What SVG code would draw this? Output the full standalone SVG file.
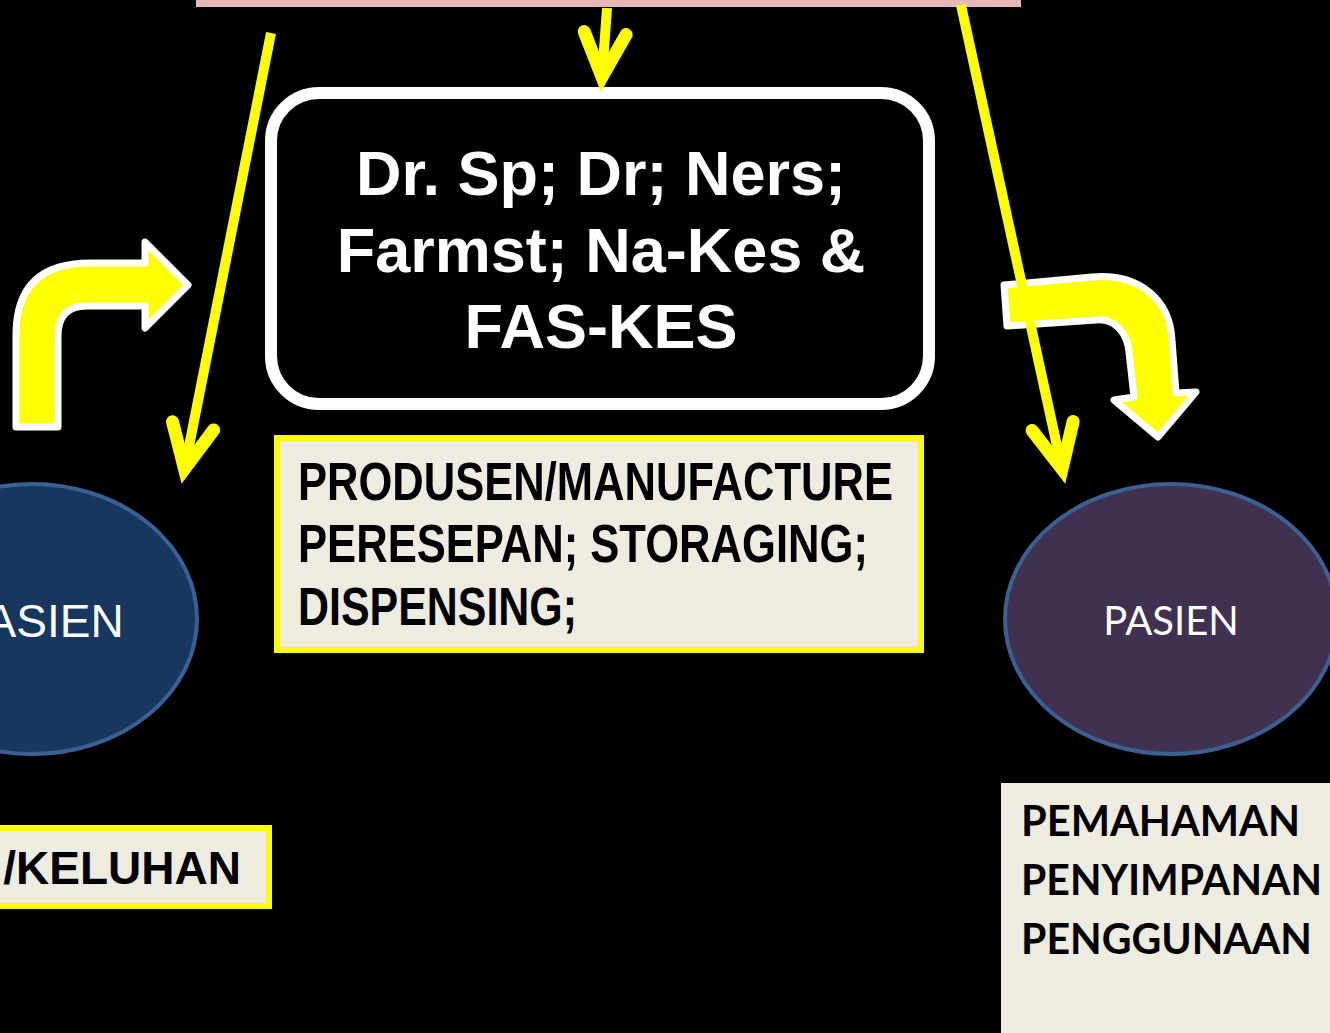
<svg xmlns="http://www.w3.org/2000/svg" width="1330" height="1033" viewBox="0 0 1330 1033">
  <style>
    .bg { fill: #000000; }
    .yellow-line { fill: none; stroke: #ffff00; stroke-width: 10; stroke-linecap: butt; }
    .bent { fill: #ffff00; stroke: #ffffff; stroke-width: 7; stroke-linejoin: round; }
    .panel { fill: #eeece1; stroke: #ffff00; stroke-width: 6; }
    .ell { stroke: #3a6192; stroke-width: 4; }
    .sans-b { font-family: "Liberation Sans", Arial, sans-serif; font-weight: 700; }
    .sans { font-family: "Liberation Sans", Arial, sans-serif; }
    .cal { font-family: Lato, "Open Sans", sans-serif; }
  </style>
  <defs>
    <marker id="vhead" markerUnits="userSpaceOnUse" markerWidth="120" markerHeight="120" viewBox="-60 -60 120 120" refX="0" refY="0" orient="auto" overflow="visible">
      <path d="M-44,-21 L0,0 L-44,21" fill="none" stroke="#ffff00" stroke-width="13" stroke-linecap="round" stroke-linejoin="miter"/>
    </marker>
  </defs>

  <rect class="bg" x="0" y="0" width="1330" height="1033"/>

  <g id="top-bar">
    <rect x="196" y="-5" width="825" height="12" fill="#e6b9b8"/>
  </g>

  <g id="node-staff">
    <rect x="271" y="93" width="658" height="311" rx="48" ry="48" fill="#000000" stroke="#ffffff" stroke-width="12"/>
    <text class="sans-b" x="601" y="195" font-size="63" fill="#ffffff" text-anchor="middle">Dr. Sp; Dr; Ners;</text>
    <text class="sans-b" x="601" y="272" font-size="63" fill="#ffffff" text-anchor="middle">Farmst; Na-Kes &amp;</text>
    <text class="sans-b" x="601" y="348" font-size="63" fill="#ffffff" text-anchor="middle">FAS-KES</text>
  </g>

  <g id="node-produsen">
    <rect class="panel" x="277" y="438" width="644" height="212"/>
    <text class="sans-b" x="298" y="500" font-size="53" fill="#000000" textLength="595" lengthAdjust="spacingAndGlyphs">PRODUSEN/MANUFACTURE</text>
    <text class="sans-b" x="298" y="562" font-size="53" fill="#000000" textLength="570" lengthAdjust="spacingAndGlyphs">PERESEPAN; STORAGING;</text>
    <text class="sans-b" x="298" y="625" font-size="53" fill="#000000" textLength="279" lengthAdjust="spacingAndGlyphs">DISPENSING;</text>
  </g>

  <g id="node-pasien-left">
    <ellipse class="ell" cx="32" cy="619" rx="165" ry="135" fill="#17375e"/>
    <text class="sans" x="41" y="637" font-size="46" fill="#ffffff" text-anchor="middle">PASIEN</text>
  </g>

  <g id="node-pasien-right">
    <ellipse class="ell" cx="1171" cy="619" rx="166" ry="135" fill="#403151"/>
    <text class="cal" x="1171" y="635" font-size="40" fill="#ffffff" text-anchor="middle">PASIEN</text>
  </g>

  <g id="node-keluhan">
    <rect class="panel" x="-10" y="828" width="279" height="78"/>
    <text class="sans-b" x="241" y="884" font-size="46" fill="#000000" text-anchor="end">/KELUHAN</text>
  </g>

  <g id="node-pemahaman">
    <rect x="1001" y="783" width="340" height="260" fill="#eeece1"/>
    <text class="cal" x="1021" y="836" font-size="42" font-weight="700" fill="#000000" textLength="279" lengthAdjust="spacingAndGlyphs">PEMAHAMAN</text>
    <text class="cal" x="1021" y="895" font-size="42" font-weight="700" fill="#000000" textLength="301" lengthAdjust="spacingAndGlyphs">PENYIMPANAN</text>
    <text class="cal" x="1021" y="954" font-size="42" font-weight="700" fill="#000000" textLength="291" lengthAdjust="spacingAndGlyphs">PENGGUNAAN</text>
  </g>

  <g id="bent-arrow-left">
    <path class="bent" d="M16,427 L16,335 Q16,263 90,263 L145,263 L145,242 L188,285 L145,328 L145,306 L86,306 Q58,306 58,336 L58,427 Z"/>
  </g>

  <g id="bent-arrow-right">
    <path class="bent" d="M1004,285 L1092,277 C1140,273 1170,300 1172,340 L1176,393 L1196,392 L1158,437 L1114,400 L1134,397 L1129,352 C1127,332 1114,318 1096,320 L1007,326 Z"/>
  </g>

  <g id="connectors">
    <line class="yellow-line" x1="271" y1="33" x2="184.5" y2="469" marker-end="url(#vhead)"/>
    <line class="yellow-line" x1="607" y1="8" x2="602" y2="77" marker-end="url(#vhead)"/>
    <line class="yellow-line" x1="961" y1="5" x2="1062" y2="469" marker-end="url(#vhead)"/>
  </g>
</svg>
